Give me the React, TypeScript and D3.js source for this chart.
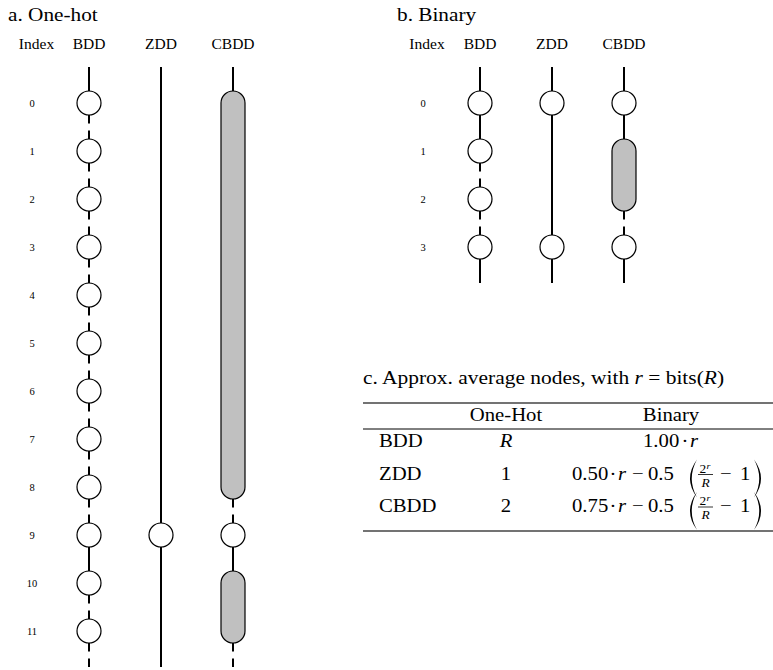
import React from 'react';
import * as d3 from 'd3';

type Span = [number, number];
type Edge = 'solid' | 'dashed';

const diagramTypes = ['BDD', 'ZDD', 'CBDD'];

const oneHotIndex = ['0', '1', '2', '3', '4', '5', '6', '7', '8', '9', '10', '11'];
const binaryIndex = ['0', '1', '2', '3'];

// node spans: [first index, last index] - a span over several indices is a chain node
const oneHotBddNodes: Span[] = [[0, 0], [1, 1], [2, 2], [3, 3], [4, 4], [5, 5], [6, 6], [7, 7], [8, 8], [9, 9], [10, 10], [11, 11]];
const oneHotBddEdges: Edge[] = ['solid', 'dashed', 'dashed', 'dashed', 'dashed', 'dashed', 'dashed', 'dashed', 'dashed', 'dashed', 'solid', 'dashed', 'dashed'];
const oneHotZddNodes: Span[] = [[9, 9]];
const oneHotZddEdges: Edge[] = ['solid', 'solid'];
const oneHotCbddNodes: Span[] = [[0, 8], [9, 9], [10, 11]];
const oneHotCbddEdges: Edge[] = ['solid', 'dashed', 'solid', 'dashed'];

const binaryBddNodes: Span[] = [[0, 0], [1, 1], [2, 2], [3, 3]];
const binaryBddEdges: Edge[] = ['solid', 'solid', 'dashed', 'dashed', 'solid'];
const binaryZddNodes: Span[] = [[0, 0], [3, 3]];
const binaryZddEdges: Edge[] = ['solid', 'solid', 'solid'];
const binaryCbddNodes: Span[] = [[0, 0], [1, 2], [3, 3]];
const binaryCbddEdges: Edge[] = ['solid', 'solid', 'dashed', 'solid'];

const tableRows = ['BDD', 'ZDD', 'CBDD'];
const tableColumns = ['One-Hot', 'Binary'];
const oneHotCounts = ['R', '1', '2'];
const binaryCoefficients = ['1.00', '0.50', '0.75'];
const binaryCorrection = [false, true, true];

const FONT = "Liberation Serif, Times New Roman, Times, serif";
const R = 12;
const ROW_STEP = 48;
const ROW_TOP = 103;
const SX = 1.12; // the larger text in the figure is set slightly wide

// text stretched horizontally around its anchor
function T({ x, y, sx = SX, anchor = 'start', size, italic, children }: {
  x: number; y: number; sx?: number; anchor?: string; size?: number; italic?: boolean; children: React.ReactNode;
}) {
  return (
    <g transform={`translate(${x},${y}) scale(${sx},1)`}>
      <text x={0} y={0} textAnchor={anchor} fontSize={size} fontStyle={italic ? 'italic' : undefined}>{children}</text>
    </g>
  );
}

function Column({ cx, y, last, nodes, edges }: { cx: number; y: d3.ScaleLinear<number, number>; last: number; nodes: Span[]; edges: Edge[] }) {
  const top = y(-0.75);
  const bottom = y(last + 0.75);
  return (
    <g>
      {edges.map((e, i) => {
        const ya = i === 0 ? top : y(nodes[i - 1][1]) + R;
        const yb = i === nodes.length ? bottom : y(nodes[i][0]) - R;
        return (
          <line key={i} x1={cx} x2={cx} y1={ya} y2={yb} stroke="#000" strokeWidth={2}
            strokeDasharray={e === 'dashed' ? '8.5,7' : undefined} />
        );
      })}
      {nodes.map(([a, b], i) =>
        a === b ? (
          <circle key={i} cx={cx} cy={y(a)} r={R} fill="#fff" stroke="#000" strokeWidth={1.2} />
        ) : (
          <rect key={i} x={cx - R} y={y(a) - R} width={2 * R} height={y(b) - y(a) + 2 * R} rx={R} ry={R}
            fill="#c0c0c0" stroke="#000" strokeWidth={1.2} />
        )
      )}
    </g>
  );
}

function Panel({ title, titleX, indexX, headerX, x0, x1, index, columns }: {
  title: string; titleX: number; indexX: number; headerX: number; x0: number; x1: number;
  index: string[]; columns: { nodes: Span[]; edges: Edge[] }[];
}) {
  const last = index.length - 1;
  const y = d3.scaleLinear().domain([0, last]).range([ROW_TOP, ROW_TOP + ROW_STEP * last]);
  const x = d3.scalePoint<string>().domain(diagramTypes).range([x0, x1]);
  return (
    <g fontFamily={FONT} fill="#000">
      <T x={titleX} y={21} size={19}>{title}</T>
      <text x={headerX} y={49} fontSize={15.5} textAnchor="middle">Index</text>
      {diagramTypes.map(d => (
        <text key={d} x={x(d)} y={49} fontSize={15.5} textAnchor="middle">{d}</text>
      ))}
      {index.map((t, i) => (
        <text key={t} x={indexX} y={y(i) + 3.5} fontSize={10.5} textAnchor="middle">{t}</text>
      ))}
      {diagramTypes.map((d, i) => (
        <Column key={d} cx={x(d) as number} y={y} last={last} nodes={columns[i].nodes} edges={columns[i].edges} />
      ))}
    </g>
  );
}

function Paren({ x, top, bottom, dir }: { x: number; top: number; bottom: number; dir: 1 | -1 }) {
  const m = (top + bottom) / 2;
  const outer = x - dir * 14;
  const inner = x - dir * 10.5;
  return <path d={`M${x},${top} Q${outer},${m} ${x},${bottom} Q${inner},${m} ${x},${top} Z`} fill="#000" />;
}

function Table() {
  const rowY = d3.scalePoint<string>().domain(tableRows).range([447, 512]);
  const colX = d3.scalePoint<string>().domain(tableColumns).range([506, 671]);
  return (
    <g fontFamily={FONT} fill="#000" fontSize={18.5}>
      <T x={363} y={384} sx={1.16}>
        c. Approx. average nodes, with <tspan fontStyle="italic">r</tspan> = bits(<tspan fontStyle="italic">R</tspan>)
      </T>
      <line x1={363} x2={773} y1={403} y2={403} stroke="#444" strokeWidth={1.6} />
      <line x1={363} x2={773} y1={429} y2={429} stroke="#000" strokeWidth={1} />
      <line x1={363} x2={773} y1={531} y2={531} stroke="#444" strokeWidth={1.6} />
      {tableColumns.map(c => (
        <T key={c} x={colX(c) as number} y={421} anchor="middle">{c}</T>
      ))}
      {tableRows.map((row, i) => {
        const b = rowY(row) as number;
        return (
          <g key={row}>
            <T x={379} y={b}>{row}</T>
            <T x={colX('One-Hot') as number} y={b} anchor="middle" italic={oneHotCounts[i] === 'R'}>
              {oneHotCounts[i]}
            </T>
            {binaryCorrection[i] ? (
              <g>
                <T x={572} y={b}>{binaryCoefficients[i]}</T>
                <T x={609.5} y={b}>·</T>
                <T x={618} y={b} italic>r</T>
                <T x={632} y={b}>−</T>
                <T x={648} y={b}>0.5</T>
                <Paren x={697} top={b - 20} bottom={b + 18} dir={1} />
                <T x={699.5} y={b - 7} size={12}>2</T>
                <T x={706.5} y={b - 11} size={9} italic>r</T>
                <line x1={698} x2={713} y1={b - 5} y2={b - 5} stroke="#000" strokeWidth={0.8} />
                <T x={705.5} y={b + 7} size={12} italic anchor="middle">R</T>
                <T x={720} y={b}>−</T>
                <T x={740} y={b}>1</T>
                <Paren x={754} top={b - 20} bottom={b + 18} dir={-1} />
              </g>
            ) : (
              <g>
                <T x={643} y={b}>{binaryCoefficients[i]}</T>
                <T x={681.5} y={b}>·</T>
                <T x={690} y={b} italic>r</T>
              </g>
            )}
          </g>
        );
      })}
    </g>
  );
}

export default function App() {
  return (
    <svg width={773} height={670} style={{ position: 'absolute', left: 0, top: 0, background: '#fff' }}>
      <Panel title="a. One-hot" titleX={8} indexX={32} headerX={36.5} x0={89} x1={233} index={oneHotIndex}
        columns={[
          { nodes: oneHotBddNodes, edges: oneHotBddEdges },
          { nodes: oneHotZddNodes, edges: oneHotZddEdges },
          { nodes: oneHotCbddNodes, edges: oneHotCbddEdges },
        ]} />
      <Panel title="b. Binary" titleX={397} indexX={423} headerX={427} x0={480} x1={624} index={binaryIndex}
        columns={[
          { nodes: binaryBddNodes, edges: binaryBddEdges },
          { nodes: binaryZddNodes, edges: binaryZddEdges },
          { nodes: binaryCbddNodes, edges: binaryCbddEdges },
        ]} />
      <Table />
    </svg>
  );
}
